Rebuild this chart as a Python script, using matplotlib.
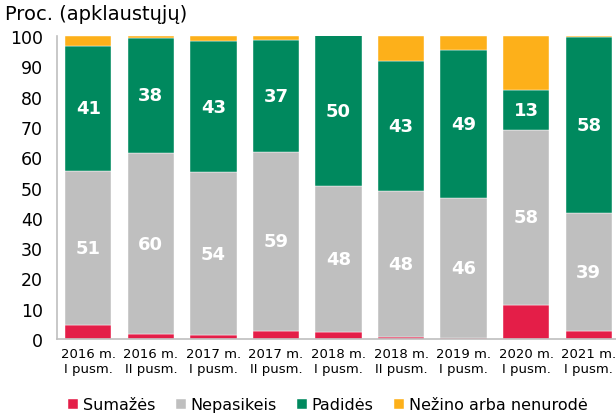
import matplotlib
matplotlib.use('Agg')
import matplotlib.pyplot as plt
import numpy as np

# data
periods = ['2016 m.\nI pusm.', '2016 m.\nII pusm.', '2017 m.\nI pusm.', '2017 m.\nII pusm.',
           '2018 m.\nI pusm.', '2018 m.\nII pusm.', '2019 m.\nI pusm.', '2020 m.\nI pusm.',
           '2021 m.\nI pusm.']
sumazes = [4.6, 1.5, 1.2, 2.7, 2.4, 0.8, 0.4, 11.1, 2.7]
nepasikeis = [51, 60, 54, 59, 48, 48, 46, 58, 39]
padides = [41, 38, 43, 37, 50, 43, 49, 13, 58]
nezino = [3.4, 0.5, 1.8, 1.3, 0.0, 8.2, 4.6, 17.9, 0.3]

labels_gray = ['51', '60', '54', '59', '48', '48', '46', '58', '39']
labels_green = ['41', '38', '43', '37', '50', '43', '49', '13', '58']

series = [
    ('Sumažės', sumazes, '#E41E48'),
    ('Nepasikeis', nepasikeis, '#BFBFBF'),
    ('Padidės', padides, '#00895E'),
    ('Nežino arba nenurodė', nezino, '#FDB01A'),
]

plt.rcParams['font.family'] = ['DejaVu Sans']

fig = plt.figure(figsize=(6.16, 4.14), dpi=100)
ax = fig.add_axes([57 / 616, (414 - 340) / 414, (620 - 57) / 616, (340 - 37) / 414])

x = np.arange(len(periods))
bottom = np.zeros(len(periods))
handles = []
for name, vals, col in series:
    v = np.array(vals, dtype=float)
    b = ax.bar(x, v, 0.74, bottom=bottom, color=col, label=name,
               edgecolor='white', linewidth=0.3)
    handles.append(b)
    if name == 'Nepasikeis':
        for i in range(len(x)):
            ax.text(x[i], bottom[i] + v[i] / 2, labels_gray[i], ha='center', va='center',
                    color='white', fontsize=13, fontweight='bold')
    if name == 'Padidės':
        for i in range(len(x)):
            ax.text(x[i], bottom[i] + v[i] / 2, labels_green[i], ha='center', va='center',
                    color='white', fontsize=13, fontweight='bold')
    bottom += v

ax.set_xlim(-0.5, 8.5)
ax.set_ylim(0, 100)
ax.set_yticks(range(0, 101, 10))
ax.set_xticks(x)
ax.set_xticklabels(periods, fontsize=9.5, linespacing=1.2)
ax.tick_params(axis='y', length=0, labelsize=12.5, pad=10)
ax.tick_params(axis='x', length=0, pad=6)
for s in ['top', 'right']:
    ax.spines[s].set_visible(False)
ax.spines['left'].set_color('#BFBFBF')
ax.spines['bottom'].set_color('#BFBFBF')
ax.spines['left'].set_linewidth(1.2)
ax.spines['bottom'].set_linewidth(1.2)

fig.text(5 / 616, 1 - 14 / 414, 'Proc. (apklaustųjų)', fontsize=14, va='center', ha='left')

fig.legend(handles=handles, loc='center', bbox_to_anchor=(328 / 616, 1 - 406 / 414), ncol=4,
           frameon=False, fontsize=11.5, handlelength=0.6, handleheight=0.6,
           handletextpad=0.3, columnspacing=1.3, borderaxespad=0)

fig.savefig('out.png', dpi=100)
